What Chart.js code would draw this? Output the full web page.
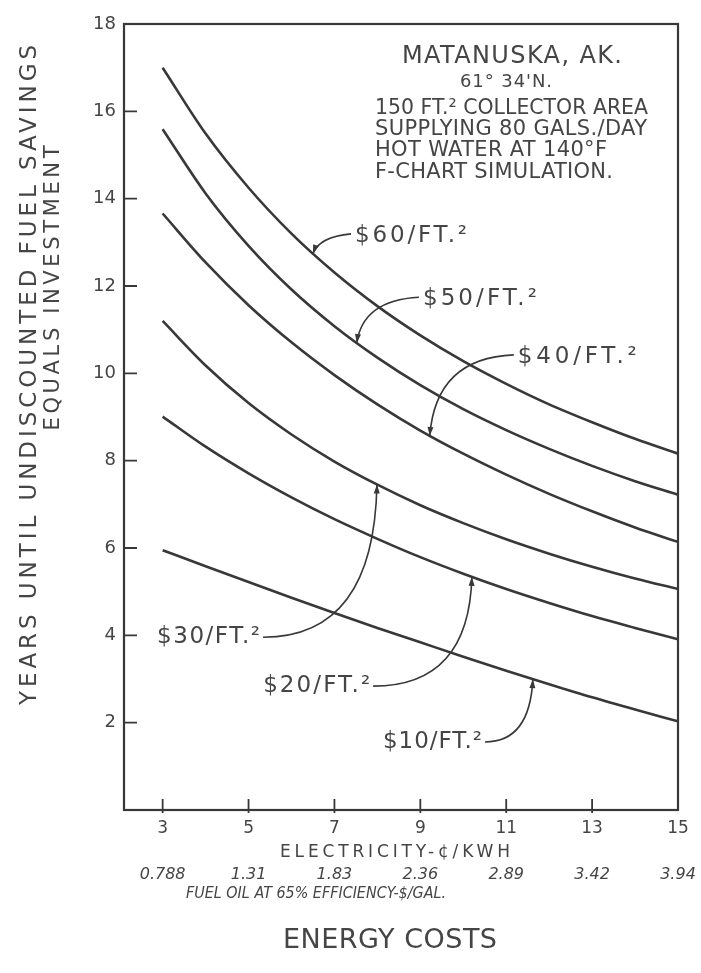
<!DOCTYPE html>
<html><head><meta charset="utf-8">
<script src="https://cdn.jsdelivr.net/npm/chart.js@4.4.0/dist/chart.umd.min.js"></script>
<style>html,body{margin:0;padding:0;background:#fff;}#wrap{width:701px;height:973px;position:relative;}</style>
</head><body><div id="wrap"><canvas id="c"></canvas></div>
<script>
// ---------- data ----------
const electricityTicks = [3, 5, 7, 9, 11, 13, 15];
const fuelOilTicks = ['0.788', '1.31', '1.83', '2.36', '2.89', '3.42', '3.94'];
const yearTicks = [2, 4, 6, 8, 10, 12, 14, 16, 18];
const energyCost = [3, 4, 5, 6, 7, 8, 9, 10, 11, 12, 13, 14, 15];
const years60 = [17.0, 15.49, 14.25, 13.2, 12.31, 11.54, 10.87, 10.28, 9.76, 9.29, 8.88, 8.5, 8.16];
const years50 = [15.59, 14.12, 12.92, 11.92, 11.08, 10.36, 9.73, 9.18, 8.7, 8.27, 7.88, 7.53, 7.22];
const years40 = [13.66, 12.54, 11.56, 10.71, 9.96, 9.29, 8.69, 8.16, 7.68, 7.24, 6.84, 6.47, 6.14];
const years30 = [11.2, 10.18, 9.32, 8.6, 7.98, 7.45, 6.98, 6.57, 6.2, 5.87, 5.57, 5.3, 5.06];
const years20 = [9.01, 8.32, 7.71, 7.16, 6.66, 6.21, 5.79, 5.41, 5.06, 4.74, 4.44, 4.17, 3.91];
const years10 = [5.95, 5.58, 5.22, 4.86, 4.51, 4.17, 3.84, 3.51, 3.19, 2.88, 2.58, 2.3, 2.03];
const seriesNames = ['$60/FT.²', '$50/FT.²', '$40/FT.²', '$30/FT.²', '$20/FT.²', '$10/FT.²'];
const seriesValues = [years60, years50, years40, years30, years20, years10];
const infoLines = ['MATANUSKA, AK.', "61° 34'N.", '150 FT.² COLLECTOR AREA', 'SUPPLYING 80 GALS./DAY', 'HOT WATER AT 140°F', 'F-CHART SIMULATION.'];
const yTitle = ['YEARS UNTIL UNDISCOUNTED FUEL SAVINGS', 'EQUALS INVESTMENT'];
const xTitle = 'ELECTRICITY-¢/KWH';
const x2Title = 'FUEL OIL AT 65% EFFICIENCY-$/GAL.';
const mainTitle = 'ENERGY COSTS';
// arrow tips (electricity value on each curve)
const arrowTipX = [6.50, 7.52, 9.22, 7.99, 10.20, 11.62];

// ---------- layout / style ----------
const FONT = "'DejaVu Sans', 'Liberation Sans', sans-serif";
const INK = '#454545';
const LINE = '#383838';
// label anchors in data space: left x, baseline y, side of arrow start, text width px
const labelAnchors = [
  {x: 7.48, y: 13.01, side: 'left', w: 112},
  {x: 9.06, y: 11.56, side: 'left', w: 114},
  {x: 11.27, y: 10.24, side: 'left', w: 119},
  {x: 2.87, y: 3.82, side: 'right', w: 103},
  {x: 5.34, y: 2.70, side: 'right', w: 107},
  {x: 8.13, y: 1.42, side: 'right', w: 99}
];
const infoLayout = [
  {x: 512, y: 63, size: 24, w: 220, align: 'center'},
  {x: 506, y: 87, size: 18, w: 92, align: 'center'},
  {x: 375, y: 114, size: 21, w: 273, align: 'left'},
  {x: 375, y: 135, size: 21, w: 272, align: 'left'},
  {x: 375, y: 156, size: 21, w: 232, align: 'left'},
  {x: 375, y: 178, size: 21, w: 238, align: 'left'}
];

function txt(ctx, text, x, y, o) {
  ctx.save();
  ctx.translate(x, y);
  if (o.rotate) ctx.rotate(-Math.PI / 2);
  ctx.font = (o.italic ? 'italic ' : '') + 'normal ' + o.size + 'px ' + FONT;
  ctx.fillStyle = o.color || INK;
  ctx.textBaseline = o.baseline || 'alphabetic';
  ctx.textAlign = 'left';
  const natural = ctx.measureText(text).width;
  let sx = 1, ls = 0;
  if (o.width) {
    const cond = o.condense || 1;
    if (natural * cond > o.width || !('letterSpacing' in ctx)) {
      sx = o.width / natural;
    } else {
      sx = cond;
      ls = (o.width / sx - natural) / Math.max(1, text.length - 1);
    }
  }
  ctx.scale(sx, 1);
  if (ls > 0) ctx.letterSpacing = ls + 'px';
  const W = o.width ? o.width / sx : natural;
  const x0 = o.align === 'center' ? -W / 2 : (o.align === 'right' ? -W : 0);
  ctx.fillText(text, x0, 0);
  ctx.restore();
}

const decorPlugin = {
  id: 'decor',
  afterDatasetsDraw(chart) {
    const ctx = chart.ctx;
    const a = chart.chartArea;
    const xs = chart.scales.x, ys = chart.scales.y;
    ctx.save();
    // frame
    ctx.strokeStyle = LINE;
    ctx.lineWidth = 2.2;
    ctx.strokeRect(a.left, a.top, a.right - a.left, a.bottom - a.top);
    // inward tick marks
    ctx.lineWidth = 1.8;
    ctx.beginPath();
    yearTicks.slice(0, -1).forEach(v => {
      const y = ys.getPixelForValue(v);
      ctx.moveTo(a.left, y); ctx.lineTo(a.left + 13, y);
    });
    electricityTicks.slice(0, -1).forEach(v => {
      const x = xs.getPixelForValue(v);
      ctx.moveTo(x, a.bottom - 11); ctx.lineTo(x, a.bottom + 3);
    });
    ctx.stroke();

    // y axis title (two lines)
    txt(ctx, yTitle[0], 30, 375, {size: 23, width: 660, rotate: true, align: 'center', baseline: 'middle'});
    txt(ctx, yTitle[1], 54, 288, {size: 21, width: 285, rotate: true, align: 'center', baseline: 'middle'});

    // bottom titles
    const cx = (a.left + a.right) / 2;
    txt(ctx, xTitle, cx - 6, a.bottom + 47, {size: 17, width: 230, align: 'center'});
    txt(ctx, x2Title, cx - 85, a.bottom + 88, {size: 15.5, width: 260, align: 'center', italic: true});
    txt(ctx, mainTitle, cx - 11, a.bottom + 138, {size: 27, width: 214, align: 'center'});

    // info block
    infoLines.forEach((t, i) => {
      const L = infoLayout[i];
      txt(ctx, t, L.x, L.y, {size: L.size, width: L.w, align: L.align});
    });

    // curve labels + arrows
    seriesNames.forEach((name, i) => {
      const L = labelAnchors[i];
      const lx = xs.getPixelForValue(L.x), ly = ys.getPixelForValue(L.y);
      txt(ctx, name, lx, ly, {size: 23, width: L.w, align: 'left'});
      const meta = chart.getDatasetMeta(i);
      const tx = xs.getPixelForValue(arrowTipX[i]);
      let tip = null;
      try { tip = meta.dataset.interpolate({x: tx}, 'x'); } catch (e) { tip = null; }
      if (!tip || !isFinite(tip.y)) {
        const pts = meta.data;
        for (let k = 0; k < pts.length - 1; k++) {
          if (pts[k].x <= tx && pts[k + 1].x >= tx) {
            const t = (tx - pts[k].x) / (pts[k + 1].x - pts[k].x);
            tip = {x: tx, y: pts[k].y + t * (pts[k + 1].y - pts[k].y)};
          }
        }
      }
      let S, C;
      if (L.side === 'left') {
        S = {x: lx - 4, y: ly - 8};
        C = {x: tip.x + 6, y: S.y + 3};
      } else {
        S = {x: lx + L.w + 3, y: ly - 6};
        C = {x: tip.x - 3, y: S.y};
      }
      ctx.strokeStyle = LINE;
      ctx.lineWidth = 1.6;
      ctx.beginPath();
      ctx.moveTo(S.x, S.y);
      ctx.quadraticCurveTo(C.x, C.y, tip.x, tip.y);
      ctx.stroke();
      const ang = Math.atan2(tip.y - C.y, tip.x - C.x);
      const len = 9, hw = 3;
      ctx.fillStyle = LINE;
      ctx.beginPath();
      ctx.moveTo(tip.x, tip.y);
      ctx.lineTo(tip.x - len * Math.cos(ang) + hw * Math.sin(ang), tip.y - len * Math.sin(ang) - hw * Math.cos(ang));
      ctx.lineTo(tip.x - len * Math.cos(ang) - hw * Math.sin(ang), tip.y - len * Math.sin(ang) + hw * Math.cos(ang));
      ctx.closePath();
      ctx.fill();
    });
    ctx.restore();
  }
};

new Chart(document.getElementById('c'), {
  type: 'line',
  data: {
    datasets: seriesNames.map((name, i) => ({
      label: name,
      data: energyCost.map((x, j) => ({x: x, y: seriesValues[i][j]})),
      borderColor: LINE,
      borderWidth: 2.6,
      pointRadius: 0,
      cubicInterpolationMode: 'monotone',
      fill: false
    }))
  },
  options: {
    responsive: true,
    maintainAspectRatio: false,
    animation: false,
    layout: {padding: {left: 0, right: 23, top: 24, bottom: 0}},
    plugins: {legend: {display: false}, tooltip: {enabled: false}, title: {display: false}},
    scales: {
      x: {
        type: 'linear', position: 'bottom', min: 2.1, max: 15, weight: 0,
        grid: {display: false, drawTicks: false},
        border: {display: false},
        afterBuildTicks: s => { s.ticks = electricityTicks.map(v => ({value: v})); },
        afterFit: s => { s.height = 50; },
        ticks: {padding: 8, color: INK, font: {family: FONT, size: 17}, maxRotation: 0, autoSkip: false,
                callback: v => String(v)}
      },
      x2: {
        type: 'linear', position: 'bottom', min: 2.1, max: 15, weight: 1,
        grid: {display: false, drawTicks: false},
        border: {display: false},
        afterBuildTicks: s => { s.ticks = electricityTicks.map(v => ({value: v})); },
        afterFit: s => { s.height = 113; },
        ticks: {padding: 5, color: INK, font: {family: FONT, size: 16, style: 'italic'}, maxRotation: 0, autoSkip: false,
                callback: v => { const k = electricityTicks.indexOf(v); return k >= 0 ? fuelOilTicks[k] : ''; }}
      },
      y: {
        type: 'linear', min: 0, max: 18,
        grid: {display: false, drawTicks: false},
        border: {display: false},
        afterBuildTicks: s => { s.ticks = yearTicks.map(v => ({value: v})); },
        afterFit: s => { s.width = 124; },
        ticks: {padding: 8, color: INK, font: {family: FONT, size: 18}, autoSkip: false, callback: v => String(v)}
      }
    }
  },
  plugins: [decorPlugin]
});
</script>
</body></html>
